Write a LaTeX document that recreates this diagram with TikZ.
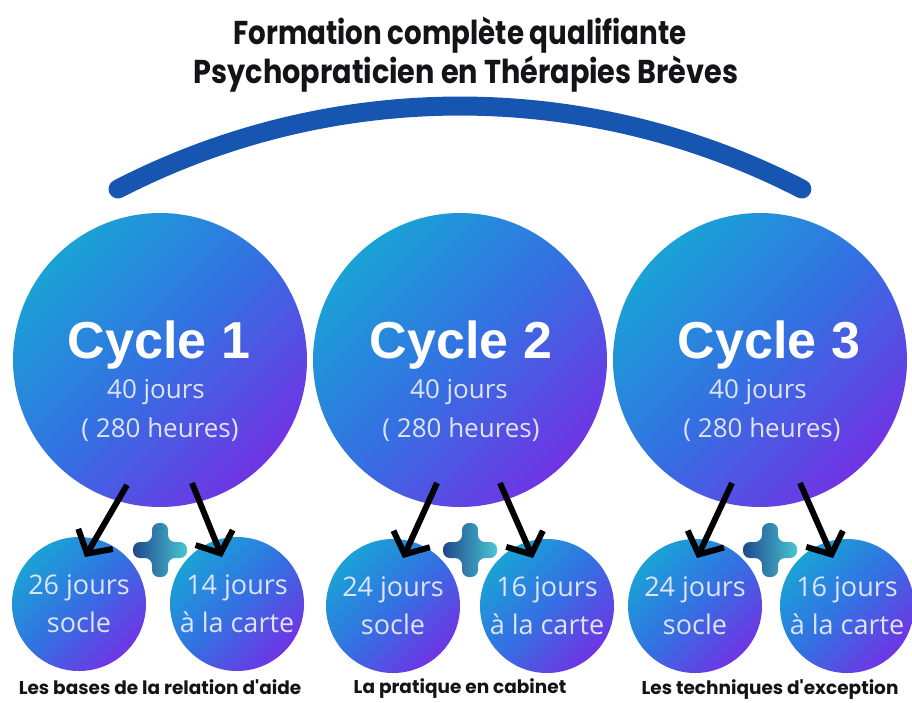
\documentclass[tikz,border=0pt]{standalone}
\usepackage{fontspec}
\setmainfont{Open Sans}
\newfontfamily\titlefont{Poppins}
\newfontfamily\cyclefont{Liberation Sans}
\usetikzlibrary{arrows.meta,calc}
\definecolor{arcblue}{RGB}{22,86,176}
\definecolor{cyantop}{RGB}{26,162,214}
\definecolor{bluemid}{RGB}{52,112,226}
\definecolor{purplebot}{RGB}{112,52,228}
\definecolor{plusdark}{RGB}{32,72,140}
\definecolor{pluslight}{RGB}{72,198,212}
\definecolor{lightfg}{RGB}{222,228,246}
\definecolor{titlefg}{RGB}{20,20,24}

\begin{document}
\begin{tikzpicture}[x=1pt,y=-1pt,
  bigcirc/.style={circle, minimum size=294pt, inner sep=0pt, top color=cyantop, bottom color=purplebot, middle color=bluemid, shading angle=45},
  smallcirc/.style={circle, minimum size=134pt, inner sep=0pt, top color=cyantop, bottom color=purplebot, middle color=bluemid, shading angle=45, text=lightfg, align=center, font=\fontsize{27}{38}\selectfont},
  cyclelbl/.style={anchor=base, text=white, font=\cyclefont\bfseries\fontsize{52}{52}\selectfont},
  dayslbl/.style={anchor=base, text=lightfg, font=\fontsize{26}{26}\selectfont},
  titlelbl/.style={anchor=base, text=titlefg, font=\titlefont\bfseries\fontsize{33}{33}\selectfont},
  sublbl/.style={anchor=base, text=titlefg, font=\titlefont\bfseries\fontsize{18.5}{18.5}\selectfont},
  arr/.style={line width=6pt, -{Straight Barb[length=17pt,width=40pt]}},
  plusgrad/.style={left color=plusdark, right color=pluslight, rounded corners=7pt}]
\useasboundingbox[fill=white] (0,0) rectangle (912,702);

% title
\node[titlelbl] (title1) at (460,44) {\scalebox{0.84}[1]{Formation complète qualifiante}};
\node[titlelbl] (title2) at (466,83) {\scalebox{0.87}[1]{Psychopraticien en Thérapies Brèves}};

% arc over the three cycles
\coordinate (arcl) at (118,189);
\draw[arcblue, line width=19pt, line cap=round] (arcl) arc[start angle=242.72, end angle=297.28, radius=746.1];

% cycles
\node[bigcirc] (c1) at (160,360) {};
\node[bigcirc] (c2) at (460,360) {};
\node[bigcirc] (c3) at (760,360) {};
\node[cyclelbl] (cy1) at (159,358) {Cycle 1};
\node[cyclelbl] (cy2) at (461,358) {Cycle 2};
\node[cyclelbl] (cy3) at (769,358) {Cycle 3};
\node[dayslbl] (d1) at (156,398) {40 jours};
\node[dayslbl] (d2) at (459,398) {40 jours};
\node[dayslbl] (d3) at (758,398) {40 jours};
\node[dayslbl] (h1) at (160,437) {( 280 heures)};
\node[dayslbl] (h2) at (461,437) {( 280 heures)};
\node[dayslbl] (h3) at (762,437) {( 280 heures)};

% parts
\node[smallcirc] (s1) at (79,604) {26 jours\\socle};
\node[smallcirc] (s2) at (237,604) {14 jours\\à la carte};
\node[smallcirc] (s3) at (393,606) {24 jours\\socle};
\node[smallcirc] (s4) at (547,606) {16 jours\\à la carte};
\node[smallcirc] (s5) at (695,606) {24 jours\\socle};
\node[smallcirc] (s6) at (847,606) {16 jours\\à la carte};

% plus signs
\shade[plusgrad, shift={(160,550)}] (-27,-8) -- ++(19,0) -- ++(0,-19) -- ++(16,0) -- ++(0,19) -- ++(19,0) -- ++(0,16) -- ++(-19,0) -- ++(0,19) -- ++(-16,0) -- ++(0,-19) -- ++(-19,0) -- cycle;
\shade[plusgrad, shift={(470,550)}] (-27,-8) -- ++(19,0) -- ++(0,-19) -- ++(16,0) -- ++(0,19) -- ++(19,0) -- ++(0,16) -- ++(-19,0) -- ++(0,19) -- ++(-16,0) -- ++(0,-19) -- ++(-19,0) -- cycle;
\shade[plusgrad, shift={(770,550)}] (-27,-8) -- ++(19,0) -- ++(0,-19) -- ++(16,0) -- ++(0,19) -- ++(19,0) -- ++(0,16) -- ++(-19,0) -- ++(0,19) -- ++(-16,0) -- ++(0,-19) -- ++(-19,0) -- cycle;

% arrows
\draw[arr] ($(c1)+(-33,125)$) -- ($(s1)+(6,-47)$);
\draw[arr] ($(c1)+(32,123)$) -- ($(s2)+(-15,-47)$);
\draw[arr] ($(c2)+(-23,123)$) -- ($(s3)+(10,-48)$);
\draw[arr] ($(c2)+(40,123)$) -- ($(s4)+(-14,-48)$);
\draw[arr] ($(c3)+(-28,123)$) -- ($(s5)+(2,-48)$);
\draw[arr] ($(c3)+(40,123)$) -- ($(s6)+(-14,-48)$);

% subtitles
\node[sublbl] (sub1) at (160,694) {Les bases de la relation d'aide};
\node[sublbl] (sub2) at (460,693) {La pratique en cabinet};
\node[sublbl] (sub3) at (770,694) {Les techniques d'exception};
\end{tikzpicture}
\end{document}
